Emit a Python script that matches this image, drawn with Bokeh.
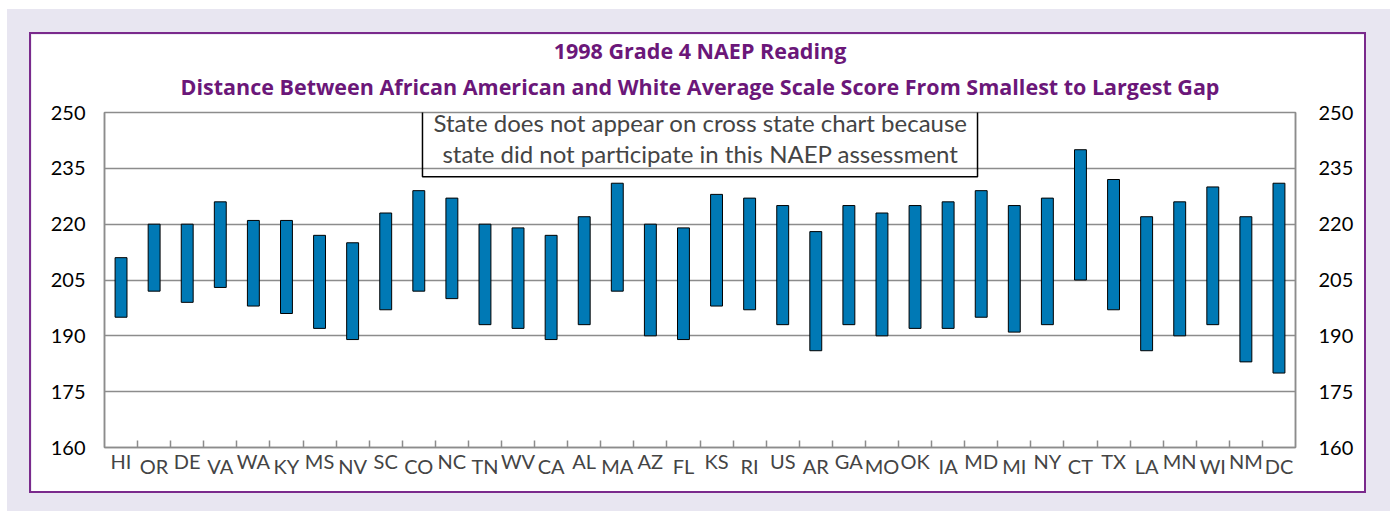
from bokeh.plotting import figure
from bokeh.models import (Range1d, LinearAxis, FixedTicker, Label, Title, Column,
                          ColumnDataSource)
from bokeh.embed import file_html
from bokeh.resources import INLINE

# ---- data ----
states = ["HI", "OR", "DE", "VA", "WA", "KY", "MS", "NV", "SC", "CO", "NC", "TN",
          "WV", "CA", "AL", "MA", "AZ", "FL", "KS", "RI", "US", "AR", "GA", "MO",
          "OK", "IA", "MD", "MI", "NY", "CT", "TX", "LA", "MN", "WI", "NM", "DC"]
white_avg = [211, 220, 220, 226, 221, 221, 217, 215, 223, 229, 227, 220,
             219, 217, 222, 231, 220, 219, 228, 227, 225, 218, 225, 223,
             225, 226, 229, 225, 227, 240, 232, 222, 226, 230, 222, 231]
black_avg = [195, 202, 199, 203, 198, 196, 192, 189, 197, 202, 200, 193,
             192, 189, 193, 202, 190, 189, 198, 197, 193, 186, 193, 190,
             192, 192, 195, 191, 193, 205, 197, 186, 190, 193, 183, 180]
y_ticks = [160, 175, 190, 205, 220, 235, 250]
title_line1 = "1998 Grade 4 NAEP Reading"
title_line2 = "Distance Between African American and White Average Scale Score From Smallest to Largest Gap"
note_text = ("State does not appear on cross state chart because\n"
             "state did not participate in this NAEP assessment")

# ---- styling ----
PURPLE = "#6B1779"
BORDER_PURPLE = "#7A2A8C"
BAR = "#0079B5"
GRID = "#8C8C8C"
FONT = "Lato"

n = len(states)
centers = [2 * i + 1 for i in range(n)]
bounds = [2 * i for i in range(1, n)]

src = ColumnDataSource(dict(x=centers, top=white_avg, bottom=black_avg, state=states))

p = figure(width=1337, height=461, x_range=Range1d(0, 2 * n), y_range=Range1d(160, 250),
           output_backend="svg", toolbar_location=None,
           x_axis_location=None, y_axis_location=None,
           min_border_left=73, min_border_right=73, min_border_top=78, min_border_bottom=48,
           background_fill_color="white", border_fill_color="white",
           styles={"border": f"2px solid {BORDER_PURPLE}"})

p.outline_line_color = GRID
p.outline_line_width = 1.5
p.xgrid.visible = False
p.ygrid.ticker = FixedTicker(ticks=y_ticks)
p.ygrid.grid_line_color = GRID
p.ygrid.grid_line_width = 1.5

p.vbar(x="x", width=0.72, top="top", bottom="bottom", source=src,
       fill_color=BAR, line_color="black", line_width=1)

# y axes
for side, standoff in (("left", 13), ("right", 17)):
    ax = LinearAxis(ticker=FixedTicker(ticks=y_ticks))
    ax.major_tick_line_color = None
    ax.minor_tick_line_color = None
    ax.axis_line_color = GRID
    ax.axis_line_width = 1.5
    ax.major_label_text_font = FONT
    ax.major_label_text_font_size = "20px"
    ax.major_label_text_color = "black"
    ax.major_label_standoff = standoff
    p.add_layout(ax, side)

# x axis, upper row labels (even positions) with boundary tick marks
even_c = centers[0::2]
odd_c = centers[1::2]
axA = LinearAxis(ticker=FixedTicker(ticks=even_c, minor_ticks=bounds),
                 major_label_overrides={c: s for c, s in zip(even_c, states[0::2])})
axA.major_tick_line_color = None
axA.minor_tick_in = 7
axA.minor_tick_out = 0
axA.minor_tick_line_color = GRID
axA.minor_tick_line_width = 1.5
axA.axis_line_color = GRID
axA.axis_line_width = 1.5
axA.major_label_text_font = FONT
axA.major_label_text_font_size = "20px"
axA.major_label_standoff = -5
p.add_layout(axA, "below")

# lower row labels (odd positions), pulled up under the first row
axB = LinearAxis(ticker=FixedTicker(ticks=odd_c, minor_ticks=[]),
                 major_label_overrides={c: s for c, s in zip(odd_c, states[1::2])})
axB.major_tick_line_color = None
axB.minor_tick_line_color = None
axB.axis_line_color = None
axB.major_label_text_font = FONT
axB.major_label_text_font_size = "20px"
axB.major_label_standoff = -28
p.add_layout(axB, "below")

# titles (last added is on top)
p.add_layout(Title(text=title_line2, align="center", text_color=PURPLE,
                   text_font="Open Sans", text_font_style="bold", text_font_size="21.5px",
                   standoff=23), "above")
p.add_layout(Title(text=title_line1, align="center", text_color=PURPLE,
                   text_font="Open Sans", text_font_style="bold", text_font_size="21.5px",
                   standoff=-13), "above")

note = Label(x=n, y=252.17, text=note_text, text_align="center", text_baseline="top",
             text_font=FONT, text_font_size="24px", text_line_height=1.05,
             border_line_color="black", border_line_width=1.5,
             padding=dict(left=11, right=10, top=4, bottom=9), level="overlay")
p.add_layout(note)

root = Column(p, styles={"background-color": "#E8E6F1",
                         "margin": "9px 0px 0px 7px",
                         "padding": "23px 40px 40px 22px"})

open("out.html", "w").write(file_html(root, INLINE))
